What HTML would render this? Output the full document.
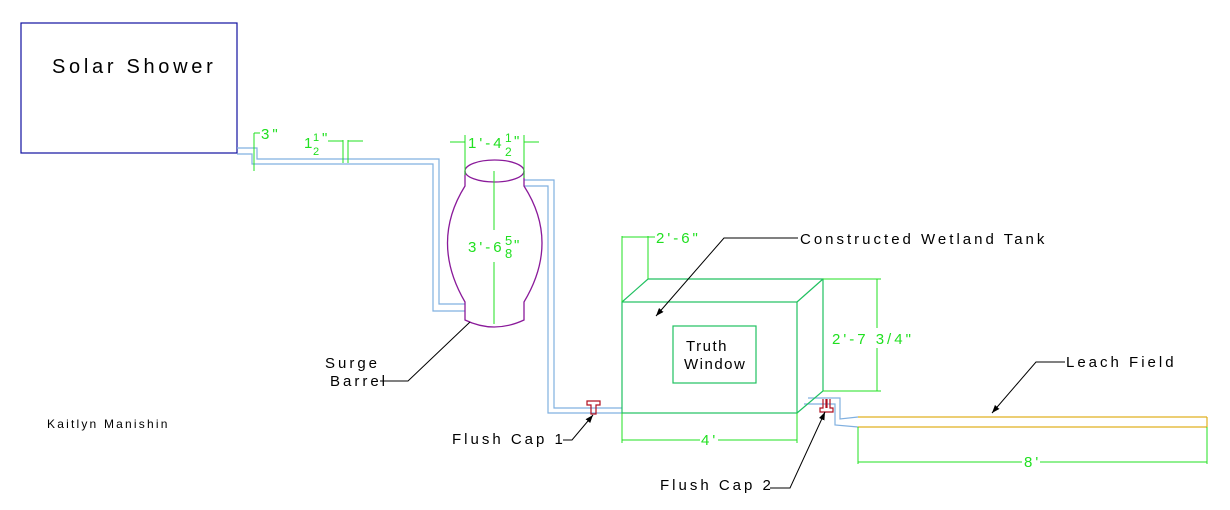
<!DOCTYPE html>
<html><head><meta charset="utf-8"><style>
html,body{margin:0;padding:0;background:#fff;width:1230px;height:510px;overflow:hidden}
svg text{font-family:"Liberation Sans",sans-serif;letter-spacing:3px}
</style></head><body>
<svg width="1230" height="510" viewBox="0 0 1230 510" xmlns="http://www.w3.org/2000/svg">
<defs><marker id="a" markerWidth="8" markerHeight="6" refX="8" refY="3" orient="auto"><path d="M0,0 L8,3 L0,6 z" fill="#000"/></marker></defs>
<!-- Solar shower -->
<rect x="21" y="23" width="216" height="130" fill="none" stroke="#1010a0" stroke-width="1.2"/>
<text x="52" y="73" font-size="20" fill="#000" style="letter-spacing:3.7px">Solar Shower</text>

<!-- pipes -->
<g fill="none" stroke="#80b0e0" stroke-width="1.2">
<polyline points="237,148 257,148 257,159 439,159 439,304 465,304"/>
<polyline points="237,154 252,154 252,164 433,164 433,311 465,311"/>
<polyline points="524,180 554,180 554,408 622,408"/>
<polyline points="524,186 548,186 548,413 622,413"/>
<polyline points="808,398 840,398 840,419 858,417"/>
<polyline points="804,404 835,404 835,425 858,427"/>
</g>

<!-- barrel -->
<g fill="none" stroke="#8a1a9a" stroke-width="1.3">
<ellipse cx="494.5" cy="171" rx="29.5" ry="11"/>
<path d="M465,171 L465,186 Q430,242 465,302 L465,320 Q494,334 524,320 L524,302 Q560,242 524,186 L524,171"/>
</g>

<!-- tank -->
<g fill="none" stroke="#20c060" stroke-width="1.2">
<rect x="622" y="302" width="175" height="111"/>
<polyline points="622,302 648,279 823,279 823,391 797,413"/>
<line x1="797" y1="302" x2="823" y2="279"/>
<rect x="673" y="326" width="83" height="57"/>
</g>
<text x="686" y="351" font-size="15" fill="#000" style="letter-spacing:1.5px">Truth</text>
<text x="684" y="369" font-size="15" fill="#000" style="letter-spacing:1.5px">Window</text>

<!-- leach field -->
<g fill="none" stroke="#e0b020" stroke-width="1.2">
<line x1="858" y1="417" x2="1207" y2="417"/>
<line x1="858" y1="427" x2="1207" y2="427"/>
<line x1="1207" y1="417" x2="1207" y2="427"/>
</g>

<!-- flush caps -->
<g fill="none" stroke="#b01020" stroke-width="1.2">
<path d="M587,401 h13 v4 h-4 v9 h-5 v-9 h-4 z"/>
<path d="M823,399 v9 h-3 v4 h13 v-4 h-3 v-9 M826,399 v9 M827,399 v9"/>
</g>

<!-- dimensions (green) -->
<g fill="none" stroke="#20e020" stroke-width="1">
<line x1="254" y1="133" x2="254" y2="171"/><line x1="254" y1="133" x2="260" y2="133"/>
<line x1="343" y1="140" x2="343" y2="163"/><line x1="348" y1="140" x2="348" y2="163"/>
<line x1="328" y1="141" x2="343" y2="141"/><line x1="348" y1="141" x2="363" y2="141"/>
<line x1="465" y1="135" x2="465" y2="175"/><line x1="524" y1="135" x2="524" y2="178"/>
<line x1="450" y1="142" x2="465" y2="142"/><line x1="524" y1="142" x2="539" y2="142"/>
<line x1="494" y1="171" x2="494" y2="230"/><line x1="494" y1="262" x2="494" y2="324"/>
<line x1="622" y1="236" x2="622" y2="302"/><line x1="648" y1="236" x2="648" y2="279"/>
<line x1="622" y1="237" x2="655" y2="237"/>
<line x1="622" y1="413" x2="622" y2="443"/><line x1="797" y1="413" x2="797" y2="443"/>
<line x1="622" y1="440" x2="700" y2="440"/><line x1="718" y1="440" x2="797" y2="440"/>
<line x1="823" y1="279" x2="881" y2="279"/><line x1="823" y1="391" x2="881" y2="391"/>
<line x1="877" y1="279" x2="877" y2="328"/><line x1="877" y1="348" x2="877" y2="391"/>
<line x1="858" y1="427" x2="858" y2="464"/><line x1="1207" y1="427" x2="1207" y2="464"/>
<line x1="858" y1="462" x2="1022" y2="462"/><line x1="1040" y1="462" x2="1207" y2="462"/>
</g>
<g fill="#20e020" font-size="15">
<text x="261" y="139">3"</text>
<text x="304" y="148">1</text><text x="313" y="141" font-size="11">1</text><text x="313" y="155" font-size="11">2</text><text x="322" y="143">"</text>
<text x="468" y="148">1'-4</text><text x="505" y="142" font-size="12">1</text><text x="505" y="156" font-size="12">2</text><text x="514" y="146">"</text>
<text x="468" y="252">3'-6</text><text x="505" y="245" font-size="13">5</text><text x="505" y="258" font-size="13">8</text><text x="514" y="250">"</text>
<text x="656" y="243">2'-6"</text>
<text x="701" y="445">4'</text>
<text x="832" y="344">2'-7  3/4"</text>
<text x="1024" y="467">8'</text>
</g>

<!-- leaders -->
<g fill="none" stroke="#000" stroke-width="1">
<polyline points="798,238 724,238 656,316" marker-end="url(#a)"/>
<polyline points="380,381 408,381 470,322"/>
<polyline points="563,440 572,440 593,415" marker-end="url(#a)"/>
<polyline points="770,488 790,488 825,412" marker-end="url(#a)"/>
<polyline points="1065,362 1036,362 992,413" marker-end="url(#a)"/>
</g>
<g fill="#000" font-size="15">
<text x="800" y="244">Constructed Wetland Tank</text>
<text x="325" y="368">Surge</text>
<text x="330" y="386">Barrel</text>
<text x="452" y="444">Flush Cap 1</text>
<text x="660" y="490">Flush Cap 2</text>
<text x="1066" y="367">Leach Field</text>
<text x="47" y="428" font-size="12" style="letter-spacing:2.2px">Kaitlyn Manishin</text>
</g>
</svg>
</body></html>
